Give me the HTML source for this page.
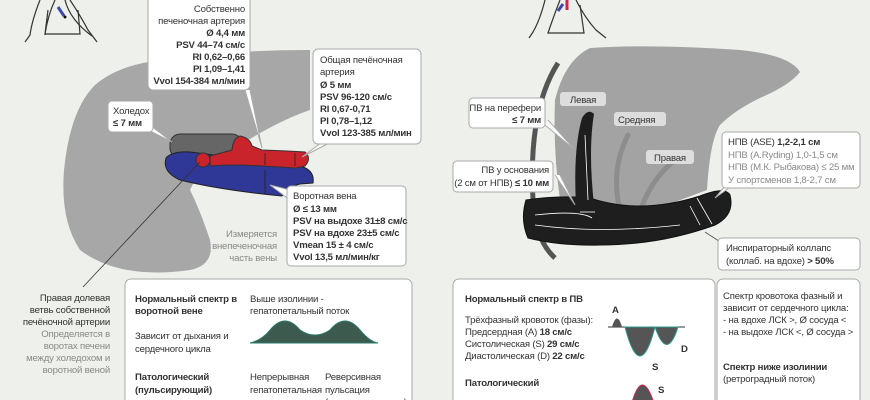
<!DOCTYPE html>
<html><head><meta charset="utf-8"><style>
html,body{margin:0;padding:0;background:#eef0eb;}
svg{display:block;font-family:"Liberation Sans Narrow","Liberation Sans",sans-serif;}
.t{font-size:9.6px;fill:#333;letter-spacing:-0.2px;}
.b{font-weight:bold;}
.g{fill:#8a8a8a;}
.box{fill:#fff;stroke:#aaa;stroke-width:1;}
</style></head><body>
<svg width="870" height="400" viewBox="0 0 870 400" xmlns="http://www.w3.org/2000/svg">
<rect width="870" height="400" fill="#eef0eb"/>
<!-- left body figure -->
<g fill="none" stroke="#333" stroke-width="1.2">
<path d="M40,0 Q32,20 30,35 L25,42 M55,0 Q48,15 45,34 L45,35 M48,10 L45,34 L80,34 L78,10"/>
<path d="M70,0 Q80,15 88,30 L97,42 M65,0 Q70,20 92,36"/>
</g>
<line x1="58" y1="7" x2="64" y2="16" stroke="#3a4aa8" stroke-width="3"/>
<circle cx="65" cy="17" r="1.5" fill="#111"/>
<!-- left liver -->
<path d="M148,62 Q220,50 310,50 L310,110 Q280,120 240,145 L200,170 L190,190 Q200,210 210,240 Q215,265 190,270 Q120,280 80,250 Q60,220 64,170 Q70,110 95,85 Q115,68 148,62 Z" fill="#a7a7a7"/>
<!-- choledoch -->
<rect x="170" y="134" width="72" height="24" rx="10" fill="#666" stroke="#333" stroke-width="1"/>
<!-- blue vein -->
<path d="M166,158 Q172,151 190,152 L300,166 Q315,170 313,183 L300,184 Q290,186 282,196 Q220,190 180,180 Q162,172 166,158 Z" fill="#2f3896" stroke="#222" stroke-width="1"/>
<!-- red artery -->
<path d="M210,156 L232,150 Q233,138 240,136 Q250,138 252,146 L262,150 Q290,151 305,152 Q312,158 305,166 L296,168 L262,166 Q230,164 210,166 Z" fill="#c9232c" stroke="#333" stroke-width="1"/>
<circle cx="203" cy="160" r="7" fill="#c9232c" stroke="#333" stroke-width="1"/>
<g stroke="#222" stroke-width="0.8"><line x1="265" y1="153" x2="265" y2="165"/><line x1="295" y1="153" x2="295" y2="166"/><line x1="265" y1="170" x2="265" y2="194"/></g>
<line x1="200" y1="162" x2="83" y2="287" stroke="#333" stroke-width="0.8"/>
<!-- callout boxes left -->
<path d="M250,90 L262,148 L245,90" fill="#fff" stroke="#aaa"/>
<rect class="box" x="148" y="-4" width="102" height="94" rx="5"/>
<g class="t" text-anchor="end">
<text x="245" y="12">Собственно</text>
<text x="245" y="24">печеночная артерия</text>
<text x="245" y="36" class="b">Ø 4,4 мм</text>
<text x="245" y="48" class="b">PSV 44–74 см/с</text>
<text x="245" y="60" class="b">RI 0,62–0,66</text>
<text x="245" y="72" class="b">PI 1,09–1,41</text>
<text x="245" y="84" class="b">Vvol 154-384 мл/мин</text>
</g>
<path d="M325,140 L302,157 L335,140" fill="#fff" stroke="#aaa"/>
<rect class="box" x="313" y="49" width="108" height="95" rx="5"/>
<g class="t">
<text x="320" y="63">Общая печёночная</text>
<text x="320" y="75">артерия</text>
<text x="320" y="88" class="b">Ø 5 мм</text>
<text x="320" y="100" class="b">PSV 96-120 см/с</text>
<text x="320" y="112" class="b">RI 0,67-0,71</text>
<text x="320" y="124" class="b">PI 0,78–1,12</text>
<text x="320" y="136" class="b">Vvol 123-385 мл/мин</text>
</g>
<path d="M150,125 L172,142 L148,130" fill="#fff" stroke="#aaa"/>
<rect class="box" x="108" y="101" width="45" height="31" rx="4"/>
<text x="113" y="114" class="t">Холедох</text>
<text x="113" y="126" class="t b">≤ 7 мм</text>
<path d="M290,190 L270,185 L290,200" fill="#fff" stroke="#aaa"/>
<rect class="box" x="287" y="186" width="119" height="80" rx="4"/>
<g class="t">
<text x="293" y="199">Воротная вена</text>
<text x="293" y="212" class="b">Ø ≤ 13 мм</text>
<text x="293" y="224" class="b">PSV на выдохе 31±8 см/с</text>
<text x="293" y="236" class="b">PSV на вдохе 23±5 см/с</text>
<text x="293" y="248" class="b">Vmean 15 ± 4 см/с</text>
<text x="293" y="260" class="b">Vvol 13,5 мл/мин/кг</text>
</g>
<g class="t g" text-anchor="end">
<text x="277" y="237">Измеряется</text>
<text x="277" y="249">внепеченочная</text>
<text x="277" y="261">часть вены</text>
</g>
<g class="t" text-anchor="end">
<text x="110" y="301">Правая долевая</text>
<text x="110" y="313">ветвь собственной</text>
<text x="110" y="325">печёночной артерии</text>
<text x="110" y="337" class="g">Определяется в</text>
<text x="110" y="349" class="g">воротах печени</text>
<text x="110" y="361" class="g">между холедохом и</text>
<text x="110" y="373" class="g">воротной веной</text>
</g>
<rect class="box" x="125" y="279" width="287" height="130" rx="6"/>
<g class="t">
<text x="135" y="302" class="b">Нормальный спектр в</text>
<text x="135" y="314" class="b">воротной вене</text>
<text x="135" y="339">Зависит от дыхания и</text>
<text x="135" y="352">сердечного цикла</text>
<text x="135" y="380" class="b">Патологический</text>
<text x="135" y="393" class="b">(пульсирующий)</text>
<text x="250" y="302">Выше изолинии -</text>
<text x="250" y="314">гепатопетальный поток</text>
<text x="250" y="380">Непрерывная</text>
<text x="250" y="393">гепатопетальная</text>
<text x="250" y="405">пульсация</text>
<text x="325" y="380">Реверсивная</text>
<text x="325" y="393">пульсация</text>
<text x="325" y="405">(двунаправленная)</text>
</g>
<path d="M250,343 Q262,340 270,330 Q285,312 300,330 Q315,340 330,330 Q345,312 360,330 Q370,342 378,343 Z" fill="#3d5a4f" stroke="#2b7a6a"/>

<!-- right body figure -->
<g fill="none" stroke="#333" stroke-width="1.2">
<path d="M545,0 Q540,20 533,32 L529,38 M560,0 Q553,18 548,33 L584,33 L580,5"/>
<path d="M576,0 Q585,18 596,30 L606,38"/>
</g>
<line x1="558" y1="11" x2="563" y2="4" stroke="#3a4aa8" stroke-width="3"/>
<line x1="567" y1="0" x2="567" y2="10" stroke="#c9234e" stroke-width="3"/>
<!-- right liver -->
<path d="M590,48 Q650,44 740,50 Q790,55 800,72 Q790,85 760,98 Q735,110 720,125 Q710,140 707,190 L640,215 Q600,220 585,210 L560,200 Q553,150 555,100 Q565,60 590,48 Z" fill="#a3a3a3"/>
<g fill="none" stroke="#8d8d8d" stroke-width="5" stroke-linecap="round"><path d="M620,210 Q610,170 628,135"/><path d="M640,212 Q650,180 675,160"/></g>
<path d="M558,63 Q528,110 533,200 Q535,240 555,258" fill="none" stroke="#555" stroke-width="5"/>
<!-- PV black -->
<path d="M526,200 Q560,195 590,198 Q640,215 700,196 Q725,186 730,195 Q735,215 715,225 Q660,245 600,245 Q560,246 528,238 Q520,220 526,200 Z" fill="#1e1e1e" stroke="#111"/>
<path d="M576,205 Q573,150 582,118 Q588,108 594,114 Q588,150 594,205 Z" fill="#1e1e1e"/>
<g stroke="#fff" stroke-width="0.8" fill="none"><path d="M585,135 L588,200"/><path d="M535,215 Q580,210 592,218"/><path d="M535,225 Q600,234 680,225"/><line x1="690" y1="206" x2="700" y2="225"/><line x1="697" y1="198" x2="712" y2="224"/><line x1="580" y1="212" x2="595" y2="212"/></g>
<!-- labels inside -->
<rect x="560" y="92" width="46" height="14" rx="3" fill="#ddd"/><text x="570" y="103" class="t">Левая</text>
<rect x="614" y="112" width="52" height="14" rx="3" fill="#ddd"/><text x="618" y="123" class="t">Средняя</text>
<rect x="646" y="150" width="48" height="14" rx="3" fill="#ddd"/><text x="654" y="161" class="t">Правая</text>
<!-- right callouts -->
<path d="M545,125 L575,150 L548,120" fill="#fff" stroke="#aaa"/>
<rect class="box" x="469" y="98" width="76" height="30" rx="4"/>
<g class="t" text-anchor="end"><text x="541" y="111">ПВ на перефери</text><text x="541" y="123" class="b">≤ 7 мм</text></g>
<path d="M555,175 L575,205 L560,175" fill="#fff" stroke="#aaa"/>
<rect class="box" x="453" y="161" width="100" height="31" rx="4"/>
<g class="t" text-anchor="end"><text x="549" y="173">ПВ у основания</text><text x="549" y="186">(2 см от НПВ) <tspan class="b">≤ 10 мм</tspan></text></g>
<path d="M726,185 L715,198 L733,185" fill="#fff" stroke="#aaa"/>
<rect class="box" x="722" y="132" width="138" height="56" rx="4"/>
<g class="t"><text x="728" y="145">НПВ (ASE) <tspan class="b">1,2-2,1 см</tspan></text>
<text x="728" y="158" class="g">НПВ (A.Ryding) 1,0-1,5 см</text>
<text x="728" y="170" class="g">НПВ (М.К. Рыбакова) ≤ 25 мм</text>
<text x="728" y="183" class="g">У спортсменов 1,8-2,7 см</text></g>
<line x1="705" y1="232" x2="725" y2="245" stroke="#555" stroke-width="0.8"/>
<rect class="box" x="718" y="238" width="142" height="32" rx="4"/>
<g class="t"><text x="726" y="251">Инспираторный коллапс</text><text x="726" y="264">(коллаб. на вдохе) <tspan class="b">&gt; 50%</tspan></text></g>
<!-- bottom right boxes -->
<rect class="box" x="453" y="279" width="262" height="130" rx="6"/>
<g class="t">
<text x="465" y="302" class="b">Нормальный спектр в ПВ</text>
<text x="465" y="323">Трёхфазный кровоток (фазы):</text>
<text x="465" y="335">Предсердная (A) <tspan class="b">18 см/с</tspan></text>
<text x="465" y="347">Систолическая (S) <tspan class="b">29 см/с</tspan></text>
<text x="465" y="359">Диастолическая (D) <tspan class="b">22 см/с</tspan></text>
<text x="465" y="386" class="b">Патологический</text>
</g>
<line x1="608" y1="327" x2="685" y2="327" stroke="#333"/>
<path d="M612,327 Q617,310 622,327 Z" fill="#555"/>
<path d="M625,327 Q640,385 655,327 Z" fill="#555" stroke="#2b9a8a"/>
<path d="M655,327 Q667,362 678,327 Z" fill="#555" stroke="#2b9a8a"/>
<text x="612" y="313" class="t b">A</text><text x="652" y="370" class="t b">S</text><text x="681" y="352" class="t b">D</text>
<path d="M630,410 Q642,360 656,410 Z" fill="#555" stroke="#c9234e"/><text x="658" y="393" class="t b">S</text>
<rect class="box" x="717" y="279" width="143" height="130" rx="6"/>
<g class="t">
<text x="723" y="299">Спектр кровотока фазный и</text>
<text x="723" y="311">зависит от сердечного цикла:</text>
<text x="723" y="323">- на вдохе ЛСК &gt;, Ø сосуда &lt;</text>
<text x="723" y="335">- на выдохе ЛСК &lt;, Ø сосуда &gt;</text>
<text x="723" y="370" class="b">Спектр ниже изолинии</text>
<text x="723" y="382">(ретроградный поток)</text>
</g>
</svg>
</body></html>
